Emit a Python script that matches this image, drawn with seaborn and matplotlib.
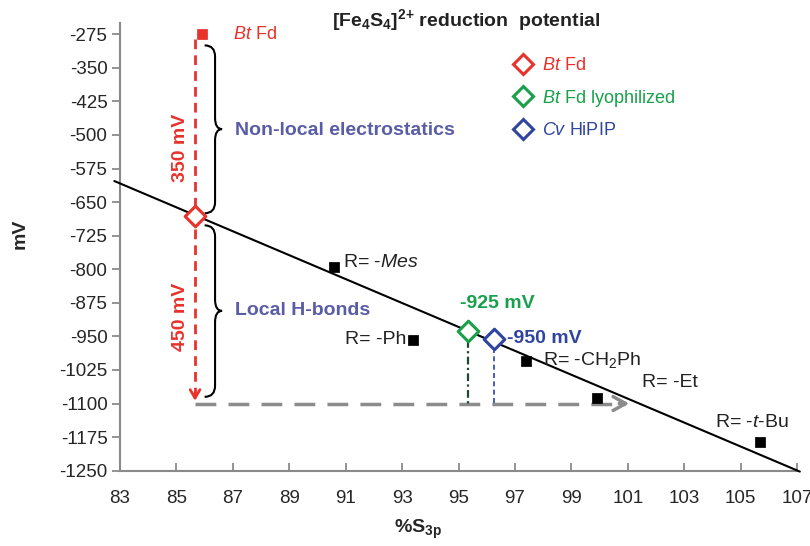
import numpy as np
import pandas as pd
import matplotlib
matplotlib.use("Agg")
import matplotlib.pyplot as plt
from matplotlib.path import Path
from matplotlib.patches import PathPatch
from matplotlib.lines import Line2D
import seaborn as sns

# ---------------- data ----------------
model_names = ["R= -Mes", "R= -Ph", "R= -CH$_2$Ph", "R= -Et", "R= -$t$-Bu"]
model_s3p = [90.6, 93.4, 97.4, 99.9, 105.7]
model_mv = [-795, -957, -1005, -1088, -1187]

fit_s3p = [82.8, 107.1]
fit_mv = [-603, -1252]

bt_fd_square = (85.9, -275)
protein_names = ["Bt Fd", "Bt Fd lyophilized", "Cv HiPIP"]
protein_s3p = [85.66, 95.35, 96.25]
protein_mv = [-680, -937, -956]
protein_labels = ["-925 mV", "-950 mV"]

ref_level = -1100
x_ticks = list(range(83, 108, 2))
y_ticks = list(range(-1250, -274, 75))

RED = "#e8322c"
GREEN = "#18a04a"
BLUE = "#2f44a0"
SLATE = "#5a5ca6"
GRAY = "#8c8c8c"

# ---------------- style ----------------
sns.set_style("white")
plt.rcParams["font.family"] = ["Liberation Sans", "DejaVu Sans"]
plt.rcParams["axes.unicode_minus"] = False
plt.rcParams["mathtext.fontset"] = "custom"
plt.rcParams["mathtext.rm"] = "Liberation Sans"
plt.rcParams["mathtext.it"] = "Liberation Sans:italic"
plt.rcParams["mathtext.bf"] = "Liberation Sans:bold"

fig = plt.figure(figsize=(8.1, 5.46), dpi=100)
ax = fig.add_axes([120 / 810, 1 - 470.7 / 546, (797 - 120) / 810, (470.7 - 23) / 546])

# fit line
sns.lineplot(x=fit_s3p, y=fit_mv, ax=ax, color="black", lw=1.5, clip_on=False, zorder=3)

# model squares
dfm = pd.DataFrame({"s3p": model_s3p, "mv": model_mv})
sns.scatterplot(data=dfm, x="s3p", y="mv", ax=ax, marker="s", s=45, color="black",
                edgecolor="black", zorder=5)
sns.scatterplot(x=[bt_fd_square[0]], y=[bt_fd_square[1]], ax=ax, marker="s", s=45,
                color=RED, edgecolor=RED, zorder=5, clip_on=False)

# reference dashed lines
ax.plot([protein_s3p[0], 100.9], [ref_level, ref_level], color=GRAY, lw=2.5,
        dashes=(6, 3.5), zorder=2)
ax.annotate("", xy=(101.15, ref_level), xytext=(100.6, ref_level),
            arrowprops=dict(arrowstyle="->,head_length=0.9,head_width=0.5", color=GRAY, lw=2.5))
ax.plot([protein_s3p[0], protein_s3p[0]], [bt_fd_square[1] - 10, ref_level + 20], color=RED,
        lw=2, dashes=(3.5, 2.2), zorder=4)
ax.annotate("", xy=(protein_s3p[0], ref_level), xytext=(protein_s3p[0], ref_level + 30),
            arrowprops=dict(arrowstyle="->,head_length=0.6,head_width=0.35", color=RED, lw=2))
ax.plot([protein_s3p[1], protein_s3p[1]], [protein_mv[1] - 20, ref_level], color="#1d4a2c",
        lw=1.6, dashes=(3.5, 1.5, 1, 1.5), zorder=2)
ax.plot([protein_s3p[2], protein_s3p[2]], [protein_mv[2] - 20, ref_level], color=BLUE,
        lw=1.2, dashes=(3, 2), zorder=2)

# diamonds
for xv, yv, c in zip(protein_s3p, protein_mv, [RED, GREEN, BLUE]):
    sns.scatterplot(x=[xv], y=[yv], ax=ax, marker="D", s=110, color="white",
                    edgecolor=c, linewidth=2.2, zorder=6)


# braces
def brace(x_left, x_spine, x_tip, y_top, y_mid, y_bot, r):
    verts = [(x_left, y_top), (x_spine, y_top), (x_spine, y_top - r),
             (x_spine, y_mid + r),
             (x_spine, y_mid), (x_tip, y_mid),
             (x_spine, y_mid), (x_spine, y_mid - r),
             (x_spine, y_bot + r),
             (x_spine, y_bot), (x_left, y_bot)]
    codes = [Path.MOVETO, Path.CURVE3, Path.CURVE3, Path.LINETO,
             Path.CURVE3, Path.CURVE3, Path.CURVE3, Path.CURVE3,
             Path.LINETO, Path.CURVE3, Path.CURVE3]
    ax.add_patch(PathPatch(Path(verts, codes), fill=False, lw=1.5, color="black", zorder=4))


brace(86.0, 86.37, 86.62, -300, -487, -675, 25)
brace(86.0, 86.37, 86.62, -702, -893, -1085, 25)

# axes formatting
ax.set_xlim(83, 107)
ax.set_ylim(-1250, -250)
ax.set_xticks(x_ticks)
ax.set_yticks(y_ticks)
for s in ["top", "right"]:
    ax.spines[s].set_visible(False)
for s in ["left", "bottom"]:
    ax.spines[s].set_color("#8a8a8a")
    ax.spines[s].set_linewidth(1.5)
ax.tick_params(axis="y", direction="out", length=6, width=1.3, color="#8a8a8a",
               labelsize=13.5, pad=3, left=True)
ax.tick_params(axis="x", direction="in", length=6, width=1.3, color="#8a8a8a",
               labelsize=13.5, pad=14, bottom=True)
ax.set_xlabel(r"$\mathbf{\%S_{3p}}$", fontsize=14)
ax.xaxis.set_label_coords(0.44, -0.105)
ax.set_ylabel("mV", fontsize=14, fontweight="bold")
ax.yaxis.set_label_coords(-0.135, 0.53)

# texts
lab_fs = 14
text_pos = [(90.9, -784, "left"), (93.15, -958, "right"), (98.0, -1003, "left"),
            (101.5, -1054, "left"), (104.1, -1143, "left")]
for name, (tx, ty, ha) in zip(model_names, text_pos):
    if name == "R= -Mes":
        name = r"R= -$\mathit{Mes}$"
    ax.text(tx, ty, name, fontsize=lab_fs, ha=ha, va="center", color="#222222")

ax.text(96.36, -876, protein_labels[0], fontsize=14, fontweight="bold", color=GREEN,
        ha="center", va="center")
ax.text(96.72, -954, protein_labels[1], fontsize=14, fontweight="bold", color=BLUE,
        ha="left", va="center")
ax.text(87.08, -489, "Non-local electrostatics", fontsize=14, fontweight="bold",
        color=SLATE, ha="left", va="center")
ax.text(87.08, -893, "Local H-bonds", fontsize=14, fontweight="bold",
        color=SLATE, ha="left", va="center")
ax.text(85.16, -530, "350 mV", fontsize=14, fontweight="bold", color=RED,
        rotation=90, ha="center", va="center")
ax.text(85.13, -907, "450 mV", fontsize=14, fontweight="bold", color=RED,
        rotation=90, ha="center", va="center")
ax.text(87.0, -275, r"$\mathit{Bt}$ Fd", fontsize=13, color=RED, ha="left", va="center")

fig.text(466 / 810, 1 - 20 / 546, r"$\mathbf{[Fe_4S_4]^{2{+}}}$ reduction  potential",
         fontsize=14, fontweight="bold", ha="center", va="center", color="#222222")

# legend
handles = [Line2D([], [], marker="D", ls="none", markersize=10, markerfacecolor="white",
                  markeredgecolor=c, markeredgewidth=2.2) for c in [RED, GREEN, BLUE]]
leg_labels = [r"$\mathit{Bt}$ Fd", r"$\mathit{Bt}$ Fd lyophilized", r"$\mathit{Cv}$ HiPIP"]
leg = ax.legend(handles, leg_labels, loc="upper left", frameon=False, fontsize=13,
                bbox_to_anchor=(500 / 810, 1 - 48 / 546), bbox_transform=fig.transFigure,
                handletextpad=0.3, labelspacing=0.75, borderpad=0, handlelength=1.5)
for t, c in zip(leg.get_texts(), [RED, GREEN, BLUE]):
    t.set_color(c)

fig.savefig("out.png", dpi=100)
